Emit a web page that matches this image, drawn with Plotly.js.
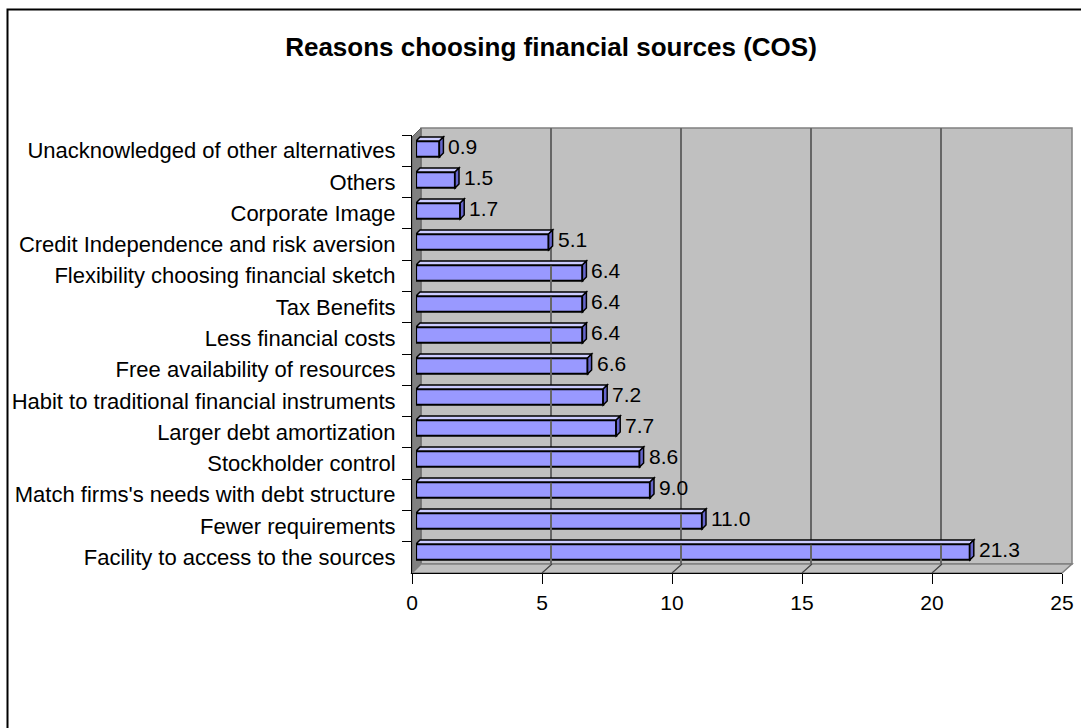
<!DOCTYPE html>
<html>
<head>
<meta charset="utf-8">
<script src="https://cdn.plot.ly/plotly-3.0.1.min.js"></script>
<style>
  html, body { margin: 0; padding: 0; background: #ffffff; }
  #chart { width: 1081px; height: 728px; }
</style>
</head>
<body>
<div id="chart"></div>
<script>
// Reasons given for choosing financial sources (COS), in percent, listed top to bottom
var reasons = [
  "Unacknowledged of other alternatives",
  "Others",
  "Corporate Image",
  "Credit Independence and risk aversion",
  "Flexibility choosing financial sketch",
  "Tax Benefits",
  "Less financial costs",
  "Free availability of resources",
  "Habit to traditional financial instruments",
  "Larger debt amortization",
  "Stockholder control",
  "Match firms's needs with debt structure",
  "Fewer requirements",
  "Facility to access to the sources"
];
var shares = [0.9, 1.5, 1.7, 5.1, 6.4, 6.4, 6.4, 6.6, 7.2, 7.7, 8.6, 9.0, 11.0, 21.3];
var xTicks = [0, 5, 10, 15, 20, 25];

var W = 1081, H = 728;
function px(x) { return x / W; }
function py(y) { return 1 - y / H; }

var FONT = "Liberation Sans, Arial, sans-serif";
var BAR_FACE = "#9999FF", BAR_TOP = "#CCCCFF", BAR_END = "#6666CC";
var WALL = "#C0C0C0", SIDE = "#808080", EDGE = "#808080";

// depth offset of the bar box (pixels) expressed in axis units
var depthPx = 4;
var depthUnits = depthPx * 25 / 650;

var shapes = [];

// outer chart frame (left and top edges fall inside the page)
shapes.push({type: "path", xref: "paper", yref: "paper",
  path: "M" + px(7.5) + ",-0.1 L" + px(7.5) + "," + py(9.5) + " L1.1," + py(9.5),
  line: {color: "#000000", width: 2}, layer: "below"});

// back wall
shapes.push({type: "rect", xref: "paper", yref: "paper",
  x0: px(421), x1: px(1072), y0: py(564), y1: py(128),
  fillcolor: WALL, line: {color: EDGE, width: 1.5}, layer: "below"});

// left side wall
shapes.push({type: "path", xref: "paper", yref: "paper",
  path: "M" + px(412) + "," + py(137) + " L" + px(421) + "," + py(128) +
        " L" + px(421) + "," + py(564) + " L" + px(412) + "," + py(573) + " Z",
  fillcolor: SIDE, line: {color: "#606060", width: 1}, layer: "below"});

// floor
shapes.push({type: "path", xref: "paper", yref: "paper",
  path: "M" + px(412) + "," + py(573) + " L" + px(421) + "," + py(564) +
        " L" + px(1072) + "," + py(564) + " L" + px(1062) + "," + py(573) + " Z",
  fillcolor: WALL, line: {color: EDGE, width: 1.5}, layer: "below"});

// floor grid segments running back from each inner tick
xTicks.slice(1, -1).forEach(function (t) {
  shapes.push({type: "line", xref: "x", yref: "paper",
    xsizemode: "pixel", xanchor: t, x0: 0, x1: 10,
    y0: py(573), y1: py(564),
    line: {color: "#404040", width: 1.2}, layer: "above"});
});

// top face and end face of each bar
shares.forEach(function (v, i) {
  shapes.push({type: "path", xref: "x2", yref: "y2",
    ysizemode: "pixel", yanchor: i,
    path: "M0,8 L" + v + ",8 L" + (v + depthUnits) + ",12 L" + depthUnits + ",12 Z",
    fillcolor: BAR_TOP, line: {color: "#000000", width: 1.5}, layer: "above"});
  shapes.push({type: "path", xref: "x2", yref: "y2",
    xsizemode: "pixel", xanchor: v, ysizemode: "pixel", yanchor: i,
    path: "M0,-8 L0,8 L" + depthPx + ",12 L" + depthPx + ",-4 Z",
    fillcolor: BAR_END, line: {color: "#000000", width: 1.5}, layer: "above"});
});

// value labels next to each bar
var annotations = shares.map(function (v, i) {
  return {x: v, y: reasons[i], xref: "x2", yref: "y2",
    text: v.toFixed(1), showarrow: false, xanchor: "left", yanchor: "middle",
    xshift: 7, yshift: 3, font: {family: FONT, size: 21, color: "#000000"}};
});

var bars = {
  type: "bar", orientation: "h",
  x: shares, y: reasons,
  xaxis: "x2", yaxis: "y2",
  width: 0.5,
  marker: {color: BAR_FACE, line: {color: "#000000", width: 2.2}},
  hoverinfo: "x+y", showlegend: false
};

// invisible trace that carries the front category axis
var frontAxis = {
  type: "bar", orientation: "h",
  x: shares.map(function () { return 0; }), y: reasons,
  xaxis: "x", yaxis: "y", hoverinfo: "skip", showlegend: false,
  marker: {color: "rgba(0,0,0,0)"}
};

// invisible trace that carries the back-wall grid axis
var wallAxis = {
  type: "scatter", mode: "markers", x: [0, 25], y: [0, 1],
  xaxis: "x3", yaxis: "y3", hoverinfo: "skip", showlegend: false,
  marker: {opacity: 0}
};

var layout = {
  width: W, height: H,
  margin: {l: 0, r: 0, t: 0, b: 0},
  paper_bgcolor: "#ffffff",
  plot_bgcolor: "rgba(0,0,0,0)",
  font: {family: FONT, color: "#000000"},
  title: {
    text: "Reasons choosing financial sources (COS)",
    x: px(551), y: py(47), xref: "paper", yref: "paper",
    xanchor: "center", yanchor: "middle",
    font: {family: FONT, size: 26, weight: "bold", color: "#000000"}
  },
  bargap: 0.5,
  xaxis: {
    domain: [px(412), px(1062)], range: [0, 25], anchor: "y",
    tickvals: xTicks, ticks: "outside", ticklen: 10, tickcolor: "#000000",
    tickwidth: 1, showline: true, linecolor: "#000000", linewidth: 1,
    showgrid: false, zeroline: false, ticklabelstandoff: 1,
    tickfont: {family: FONT, size: 21, color: "#000000"}, fixedrange: true
  },
  yaxis: {
    domain: [py(573), py(135)], anchor: "x", type: "category",
    categoryorder: "array", categoryarray: reasons, autorange: "reversed",
    tickson: "boundaries", ticks: "outside", ticklen: 9, tickcolor: "#000000",
    showline: true, linecolor: "#000000", linewidth: 1,
    showgrid: false, zeroline: false, ticklabelstandoff: 11,
    tickfont: {family: FONT, size: 22, color: "#000000"}, fixedrange: true
  },
  xaxis2: {
    domain: [px(416), px(1066)], range: [0, 25], anchor: "y2",
    visible: false, fixedrange: true
  },
  yaxis2: {
    domain: [py(568.5), py(133.5)], anchor: "x2", type: "category",
    categoryorder: "array", categoryarray: reasons, autorange: "reversed",
    visible: false, fixedrange: true
  },
  xaxis3: {
    domain: [px(421), px(1071)], range: [0, 25], anchor: "y3",
    tickvals: xTicks, showticklabels: false, ticks: "",
    showgrid: true, gridcolor: "#666666", gridwidth: 1.5,
    zeroline: false, showline: false, fixedrange: true
  },
  yaxis3: {
    domain: [py(564), py(128)], range: [0, 1], anchor: "x3",
    visible: false, showgrid: false, fixedrange: true
  },
  shapes: shapes,
  annotations: annotations
};

Plotly.newPlot("chart", [wallAxis, frontAxis, bars], layout, {displayModeBar: false, staticPlot: true});
</script>
</body>
</html>
